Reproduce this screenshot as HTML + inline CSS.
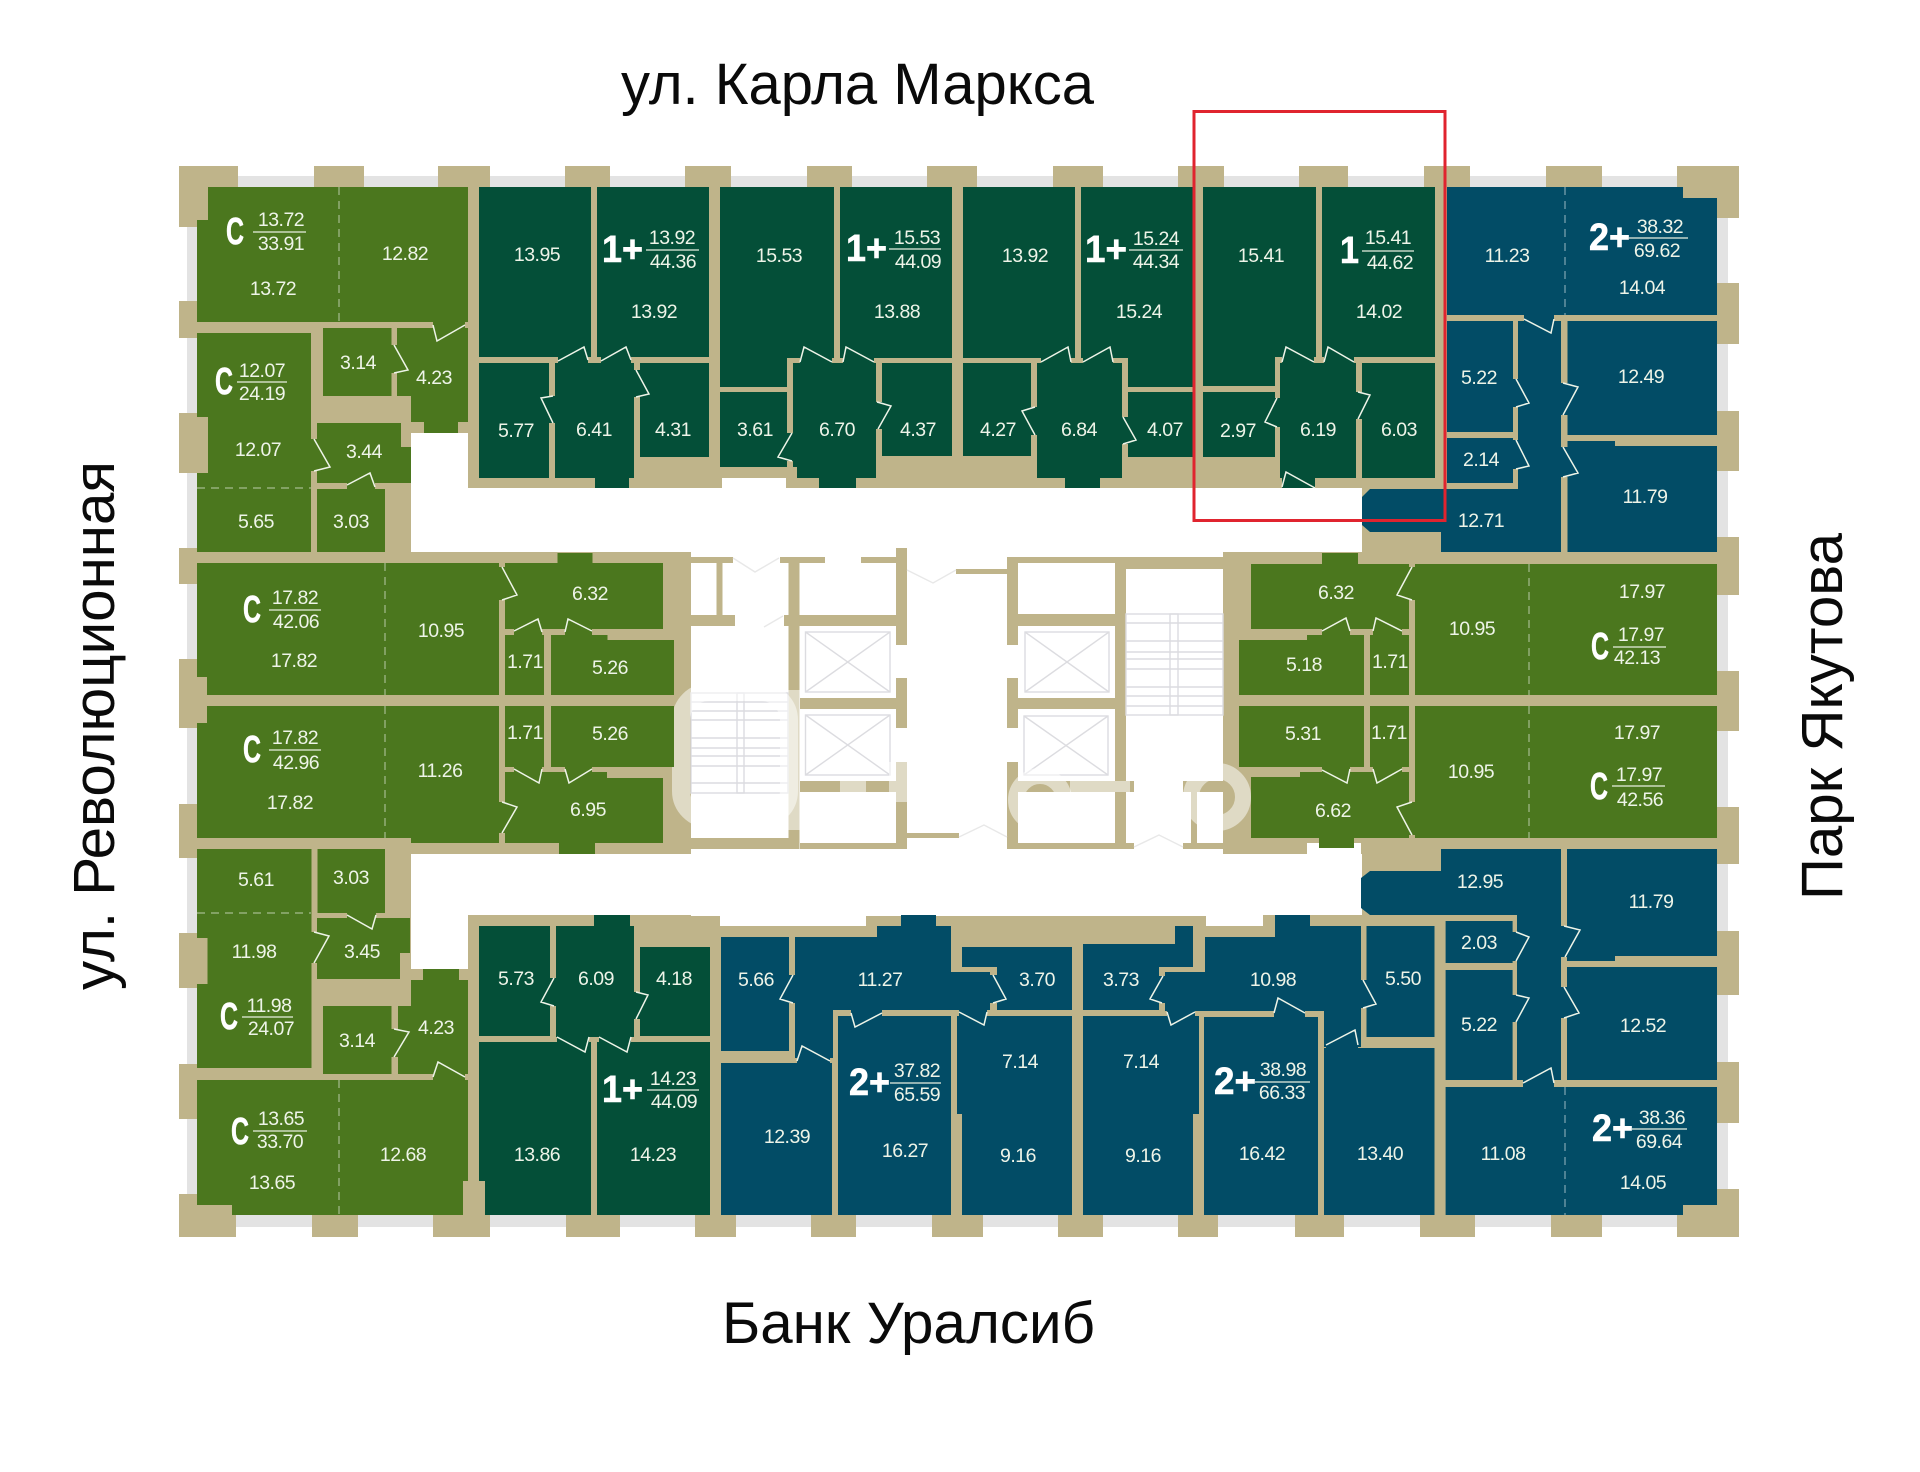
<!DOCTYPE html>
<html><head><meta charset="utf-8"><title>План этажа</title>
<style>
html,body{margin:0;padding:0;background:#fff}
svg{display:block}
text{font-family:"Liberation Sans",sans-serif}
.t text{font-size:19.5px;letter-spacing:-.5px;fill:#eef4e8;text-anchor:middle;dominant-baseline:central}
.b text{font-size:38px;font-weight:bold;fill:#fff;stroke:#fff;stroke-width:.6;dominant-baseline:central}
.l line{stroke:#e8efe0;stroke-width:1.3}
.s text{font-size:58px;fill:#0a0a0a}
</style></head><body>
<svg width="1920" height="1472" viewBox="0 0 1920 1472" xmlns="http://www.w3.org/2000/svg">

<!-- grey strip + tan base -->
<rect x="187" y="176" width="1541" height="1051" fill="#e3e3e3"/>
<rect x="197" y="187" width="1520" height="1028" fill="#bfb48a"/>

<!-- piers -->
<g fill="#bfb48a">
<rect x="179" y="166" width="59" height="21"/><rect x="314" y="166" width="50" height="21"/><rect x="438" y="166" width="52" height="21"/><rect x="565" y="166" width="45" height="21"/><rect x="685" y="166" width="46" height="21"/><rect x="807" y="166" width="45" height="21"/><rect x="927" y="166" width="50" height="21"/><rect x="1053" y="166" width="50" height="21"/><rect x="1178" y="166" width="46" height="21"/><rect x="1299" y="166" width="49" height="21"/><rect x="1424" y="166" width="46" height="21"/><rect x="1546" y="166" width="56" height="21"/><rect x="1677" y="166" width="62" height="32"/>
<rect x="179" y="1215" width="57" height="22"/><rect x="312" y="1215" width="46" height="22"/><rect x="433" y="1215" width="57" height="22"/><rect x="566" y="1215" width="54" height="22"/><rect x="695" y="1215" width="41" height="22"/><rect x="811" y="1215" width="45" height="22"/><rect x="932" y="1215" width="51" height="22"/><rect x="1058" y="1215" width="45" height="22"/><rect x="1178" y="1215" width="40" height="22"/><rect x="1295" y="1215" width="49" height="22"/><rect x="1420" y="1215" width="55" height="22"/><rect x="1551" y="1215" width="51" height="22"/><rect x="1677" y="1205" width="62" height="32"/>
<rect x="179" y="166" width="29" height="61"/><rect x="179" y="301" width="18" height="37"/><rect x="179" y="413" width="29" height="60"/><rect x="179" y="548" width="18" height="36"/><rect x="179" y="659" width="18" height="69"/><rect x="179" y="804" width="18" height="54"/><rect x="179" y="933" width="28" height="55"/><rect x="179" y="1064" width="18" height="55"/><rect x="179" y="1194" width="53" height="43"/>
<rect x="1717" y="166" width="22" height="52"/><rect x="1717" y="283" width="22" height="61"/><rect x="1717" y="411" width="22" height="60"/><rect x="1717" y="537" width="22" height="58"/><rect x="1717" y="671" width="22" height="60"/><rect x="1717" y="807" width="22" height="57"/><rect x="1717" y="931" width="22" height="64"/><rect x="1717" y="1062" width="22" height="61"/><rect x="1717" y="1189" width="22" height="48"/>
</g>

<!-- corridors & core -->
<g fill="#fff">
<rect x="411" y="433" width="57" height="119"/><rect x="468" y="488" width="894" height="64"/><rect x="722" y="478" width="64" height="10"/>
<rect x="691" y="552" width="548" height="364"/><rect x="411" y="854" width="951" height="61"/><rect x="1307" y="843" width="54" height="11"/>
<rect x="411" y="915" width="57" height="54"/><rect x="720" y="915" width="146" height="11"/><rect x="1206" y="915" width="57" height="11"/>
</g>
<g fill="#bfb48a">
<rect x="691" y="557" width="42" height="6"/><rect x="780" y="557" width="45" height="6"/><rect x="861" y="557" width="35" height="6"/>
<rect x="896" y="548" width="11" height="97"/><rect x="896" y="678" width="11" height="50"/><rect x="896" y="762" width="11" height="87"/>
<rect x="788.5" y="557" width="11" height="292"/><rect x="716.5" y="563" width="6" height="52"/><rect x="691" y="615" width="44" height="11"/><rect x="784" y="615" width="112" height="11"/>
<rect x="800" y="698" width="96" height="11"/><rect x="800" y="781" width="96" height="11"/><rect x="691" y="838" width="98" height="11"/><rect x="800" y="843" width="96" height="6"/><rect x="907" y="833" width="52" height="5"/>
<rect x="1007" y="557" width="11" height="88"/><rect x="1007" y="678" width="11" height="50"/><rect x="1007" y="762" width="11" height="87"/>
<rect x="1018" y="557" width="97" height="6"/><rect x="1115" y="557" width="124" height="12"/><rect x="1115" y="557" width="11" height="287"/>
<rect x="1018" y="614" width="97" height="12"/><rect x="1018" y="698" width="97" height="11"/><rect x="1018" y="781" width="116" height="11"/><rect x="1183" y="781" width="40" height="11"/><rect x="1191" y="792" width="6" height="51"/>
<rect x="1018" y="843" width="116" height="6"/><rect x="1183" y="843" width="56" height="6"/><rect x="1223" y="552" width="16" height="302"/><rect x="956" y="569" width="51" height="5"/>
</g>
<!-- stairs, lifts -->
<g fill="none" stroke="#dcdce0" stroke-width="1.4">
<rect x="691" y="693" width="97" height="100"/><rect x="737" y="693" width="7" height="100"/>
<path d="M691 702H788M691 711H788M691 720H788M691 738H788M691 748H788M691 756H788M691 766H788M691 783H788"/>
<rect x="1126" y="614" width="97" height="101"/><rect x="1170" y="614" width="8" height="101"/>
<path d="M1126 623H1223M1126 641H1223M1126 652H1223M1126 659H1223M1126 669H1223M1126 687H1223M1126 696H1223M1126 706H1223"/>
<rect x="805.5" y="632" width="84.5" height="60"/><path d="M805.5 632L890 692M890 632L805.5 692"/>
<rect x="805.5" y="715" width="84.5" height="60"/><path d="M805.5 715L890 775M890 715L805.5 775"/>
<rect x="1025" y="632" width="84" height="60"/><path d="M1025 632L1109 692M1109 632L1025 692"/>
<rect x="1024" y="716" width="84" height="59"/><path d="M1024 716L1108 775M1108 716L1024 775"/>
<path stroke="#e8e8e8" d="M733 558L755 572L779 558M764 627L783 616M907 570L933 583L956 570M959 837L984 825L1007 837M1134 847L1159 835L1183 847"/>
</g>
<!-- watermark -->
<g fill="none" stroke="#fff" stroke-opacity=".5">
<rect x="681" y="692" width="108" height="127" rx="28" stroke-width="18"/>
<circle cx="1040" cy="800" r="24" stroke-width="16"/>
<circle cx="1217" cy="797" r="26" stroke-width="16"/>
<path d="M794 690V830" stroke-width="11"/>
</g>
<g fill="#fff" fill-opacity=".5"><rect x="840" y="781" width="26" height="11"/><rect x="889" y="762" width="18" height="40"/><rect x="1070" y="781" width="60" height="11"/></g>

<!-- light green -->
<g fill="#4b771e">
<polygon points="208,187 468,187 468,322 197,322 197,220 208,220"/>
<polygon points="197,333 311,333 311,552 197,552 197,473 208,473 208,417 197,417"/>
<rect x="323" y="328" width="68.5" height="68"/>
<polygon points="397,328 468,328 468,422 458,422 458,433 424,433 424,422 411,422 411,396 397,396"/>
<polygon points="317,423 401,423 401,447 411,447 411,483 317,483"/>
<rect x="317" y="489" width="68" height="63"/>
<polygon points="197,563 499,563 499,695 207,695 207,677 197,677"/>
<polygon points="505,563 557.5,563 557.5,553 592.5,553 592.5,563 663,563 663,629 505,629"/>
<rect x="505" y="635" width="39" height="60"/>
<polygon points="551,635 607.5,635 607.5,640 674,640 674,695 551,695"/>
<polygon points="207,706 499,706 499,843 411,843 411,838 197,838 197,723 207,723"/>
<rect x="505" y="706" width="39" height="61"/><rect x="551" y="706" width="123" height="61"/>
<polygon points="505,772 607,772 607,778 663,778 663,843 595,843 595,854 559,854 559,843 505,843"/>
<polygon points="197,849 311.5,849 311.5,1068 197,1068 197,984 207.5,984 207.5,938 197,938"/>
<rect x="317.5" y="849" width="67.5" height="64"/>
<polygon points="317,918 410,918 410,953 400,953 400,979 317,979"/>
<rect x="323" y="1006" width="68.5" height="68"/>
<polygon points="398,1006 411,1006 411,980 423,980 423,969 459,969 459,980 468,980 468,1074 398,1074"/>
<polygon points="197,1080 468,1080 468,1181 463,1181 463,1215 232,1215 232,1205 197,1205"/>
<polygon points="1251,564 1322,564 1322,553 1358,553 1358,564 1409,564 1409,629 1251,629"/>
<polygon points="1239,640 1307,640 1307,635 1364,635 1364,695 1239,695"/>
<rect x="1370" y="635" width="39" height="60"/><rect x="1415" y="564" width="302" height="131"/>
<rect x="1239" y="706" width="125" height="61"/><rect x="1370" y="706" width="39" height="61"/><rect x="1415" y="706" width="302" height="132"/>
<polygon points="1251,777 1300,777 1300,772 1409,772 1409,838 1354,838 1354,848 1319,848 1319,838 1251,838"/>
</g>
<!-- dark green -->
<g fill="#044f38">
<rect x="479" y="187" width="112" height="170"/><rect x="597" y="187" width="112" height="170"/><rect x="479" y="363" width="70" height="115"/>
<polygon points="555,363 634,363 634,478 629,478 629,488 595,488 595,478 555,478"/>
<rect x="640" y="363" width="69" height="94"/>
<polygon points="720,187 834,187 834,358 787,358 787,387 720,387"/>
<rect x="840" y="187" width="112" height="171"/><rect x="720" y="392" width="67" height="75"/>
<polygon points="793,363 876,363 876,478 856,478 856,488 819,488 819,478 797,478 797,467 793,467"/>
<rect x="882" y="363" width="70" height="93"/>
<rect x="963" y="187" width="112" height="171"/>
<polygon points="1081,187 1193,187 1193,387 1128,387 1128,358 1081,358"/>
<rect x="963" y="363" width="68" height="93"/>
<polygon points="1037,363 1122,363 1122,478 1100,478 1100,488 1065,488 1065,478 1037,478"/>
<rect x="1128" y="392" width="65" height="65"/>
<polygon points="1203,187 1316,187 1316,357 1275,357 1275,386 1203,386"/>
<rect x="1322" y="187" width="113" height="170"/><rect x="1203" y="392" width="72" height="65"/>
<polygon points="1280,363 1356,363 1356,478 1315,478 1315,488 1282,488 1282,478 1280,478"/>
<rect x="1362" y="363" width="73" height="115"/>
<rect x="479" y="926" width="71" height="110"/>
<polygon points="556,926 594,926 594,915 630,915 630,926 634,926 634,1037 556,1037"/>
<rect x="640" y="947" width="70" height="89"/>
<polygon points="479,1042 591,1042 591,1215 485,1215 485,1181 479,1181"/>
<rect x="597" y="1042" width="113" height="173"/>
</g>
<!-- blue -->
<g fill="#024c66">
<polygon points="1447,187 1683,187 1683,198 1717,198 1717,315 1447,315"/>
<rect x="1447" y="321" width="66" height="111"/><rect x="1447" y="438" width="66" height="45"/>
<polygon points="1518,321 1561,321 1561,552 1441,552 1441,532 1370,532 1362,525 1362,497 1370,489 1518,489"/>
<rect x="1567.5" y="321" width="149.5" height="114"/>
<polygon points="1567.5,441 1615,441 1615,446 1717,446 1717,552 1567.5,552"/>
<polygon points="1370,871 1441,871 1441,849 1561,849 1561,1080 1517,1080 1517,915 1370,915 1361,908 1361,878"/>
<polygon points="1567,849 1717,849 1717,956 1615,956 1615,961 1567,961"/>
<rect x="1567" y="967" width="150" height="113"/>
<rect x="1445.6" y="921" width="67" height="42"/><rect x="1445.6" y="970" width="67" height="110"/>
<polygon points="1445.6,1087 1717,1087 1717,1205 1683,1205 1683,1215 1445.6,1215"/>
<rect x="721" y="937" width="68" height="114"/><rect x="721" y="1063" width="111" height="152"/>
<polygon points="795,937 877,937 877,926 901,926 901,915 936,915 936,926 951,926 951,972 990,972 990,1010 833,1010 833,1058 795,1058"/>
<polygon points="962,947 1072,947 1072,1010 997,1010 997,967 962,967"/>
<rect x="838" y="1016" width="113" height="199"/>
<polygon points="957,1016 1072,1016 1072,1215 962,1215 962,1114 957,1114"/>
<polygon points="1083,1016 1199,1016 1199,1114 1193,1114 1193,1215 1083,1215"/>
<polygon points="1083,944 1175,944 1175,926 1193,926 1193,967 1159,967 1159,1010 1083,1010"/>
<polygon points="1165,972 1205,972 1205,937 1275,937 1275,915 1310,915 1310,926 1361,926 1361,1047 1324,1047 1324,1011 1165,1011"/>
<rect x="1204" y="1017" width="114" height="198"/>
<rect x="1324" y="1048" width="110.5" height="167"/>
<rect x="1366.5" y="926" width="68" height="111"/>
</g>
<!-- door openings in walls -->
<path fill="none" stroke="#4b771e" stroke-width="7" d="M433 325H465M394.5 345V373M314 439V471M347 486H375M502 567V600M514 632H542M565 632H592M514 769.5H542M565 769.5H592M502 802V833M347 915.5H376M314 932V963M395 1029V1057M433 1077H465M1412 567V600M1322 632H1350M1373 632H1402M1322 769.5H1350M1373 769.5H1402M1412 802V835"/>
<path fill="none" stroke="#044f38" stroke-width="7" d="M558 360H588M601 360H631M637 370V397M552 396V423M800 360H832M843 360H874M879 402V429M790 433V461M1041 360H1071M1083 360H1113M1034 407V435M1125 417V444M1282 360H1314M1324 360H1354M1277.5 398V427M1359 392V419M553 978V1006M637 992V1019M557 1039H589M599 1039H631"/>
<path fill="none" stroke="#024c66" stroke-width="7" d="M1524 318H1554M1515.5 379V407M1515.5 440V469M1564 383V415M1564 447V477M792 975V1003M797 1060H830M851 1013H882M993.5 975V1003M959 1013H987M1162 976V1003M1167 1013H1195M1274 1014H1305M1326 1047H1358M1363.5 980V1008M1515 932V961M1515 995V1022M1564 926V957M1564 987V1018M1523 1083.5H1554"/>
<path fill="none" stroke="#eef4e8" stroke-width="1.5" d="M465 325L437 341L433 325M394 345L408 370L394 373M314 439L330 467L314 471M347 485L370 473L375 487M502 567L517 595L502 600M514 631L538 619L542 632M592 631L568 619L565 632M514 769L539 783L542 769M592 769L569 783L565 769M502 833L517 807L502 802M347 915L372 929L376 915M314 963L329 936L314 932M394 1057L409 1032L394 1029M465 1077L438 1062L433 1077M1412 567L1397 595L1412 600M1322 631L1346 618L1350 631M1402 631L1376 618L1373 631M1322 770L1347 783L1350 769M1402 769L1377 783L1373 769M1412 835L1397 807L1412 802M558 361L584 347L588 360M601 361L626 347L631 360M636 370L649 394L636 397M553 423L541 398L553 396M832 362L804 347L800 362M874 362L846 347L843 362M878 429L891 406L877 402M792 433L778 457L792 461M1041 362L1068 347L1071 362M1083 362L1110 347L1113 362M1035 435L1022 411L1035 407M1123 417L1136 440L1123 444M1314 362L1286 347L1282 362M1354 362L1328 347L1324 362M1277 398L1265 422L1277 427M1358 419L1370 395L1358 392M554 978L541 1002L554 1006M636 1019L648 995L636 992M557 1037L585 1052L589 1037M599 1037L627 1052L631 1037M1282 487L1286 472L1315 488M1524 319L1551 333L1554 319M1516 379L1529 403L1516 407M1516 440L1529 466L1516 469M1563 415L1578 387L1563 383M1563 447L1578 473L1563 477M793 975L780 999L793 1003M830 1061L802 1046L797 1061M882 1013L855 1027L851 1013M993 975L1006 999L993 1003M959 1012L984 1025L987 1012M1163 976L1150 999L1162 1003M1195 1012L1171 1025L1167 1012M1305 1013L1278 998L1274 1013M1326 1045L1355 1030L1358 1045M1363 980L1376 1004L1363 1008M1516 932L1529 937L1516 961M1516 995L1529 998L1516 1022M1564 926L1580 930L1565 957M1564 987L1579 1013L1564 1018M1523 1083L1551 1068L1554 1083"/>
<!-- dashed partitions -->
<path fill="none" stroke="#fff" stroke-opacity=".5" stroke-width="1.2" stroke-dasharray="8 6" d="M339 187V322M197 488H311M385 563V695M385 706V838M197 913H311M339 1080V1215M1565 187V315M1565 1087V1215M1529 564V695M1529 706V838"/>

<!-- fraction lines -->
<g class="l">
<line x1="253" y1="232" x2="306" y2="232"/><line x1="646" y1="250" x2="699" y2="250"/><line x1="237" y1="382" x2="287" y2="382"/><line x1="889" y1="249" x2="941" y2="249"/><line x1="1129" y1="250" x2="1183" y2="250"/><line x1="1362" y1="251" x2="1414" y2="251"/><line x1="1629" y1="238" x2="1688" y2="238"/><line x1="269" y1="610" x2="321" y2="610"/><line x1="269" y1="750" x2="321" y2="750"/><line x1="1613" y1="647" x2="1666" y2="647"/><line x1="1612" y1="786" x2="1665" y2="786"/><line x1="242" y1="1017" x2="293" y2="1017"/><line x1="253" y1="1131" x2="307" y2="1131"/><line x1="647" y1="1090" x2="699" y2="1090"/><line x1="890" y1="1083" x2="941" y2="1083"/><line x1="1255" y1="1082" x2="1310" y2="1082"/><line x1="1632" y1="1129" x2="1687" y2="1129"/>
</g>
<!-- big labels -->
<g class="b">
<text x="226" y="232" textLength="18" lengthAdjust="spacingAndGlyphs">C</text>
<text x="602" y="250" textLength="41" lengthAdjust="spacingAndGlyphs">1+</text>
<text x="215" y="382" textLength="18" lengthAdjust="spacingAndGlyphs">C</text>
<text x="846" y="249" textLength="41" lengthAdjust="spacingAndGlyphs">1+</text>
<text x="1085" y="250" textLength="42" lengthAdjust="spacingAndGlyphs">1+</text>
<text x="1340" y="251" textLength="19" lengthAdjust="spacingAndGlyphs">1</text>
<text x="1589" y="238" textLength="41" lengthAdjust="spacingAndGlyphs">2+</text>
<text x="243" y="610" textLength="18" lengthAdjust="spacingAndGlyphs">C</text>
<text x="243" y="750" textLength="18" lengthAdjust="spacingAndGlyphs">C</text>
<text x="1591" y="647" textLength="18" lengthAdjust="spacingAndGlyphs">C</text>
<text x="1590" y="787" textLength="18" lengthAdjust="spacingAndGlyphs">C</text>
<text x="220" y="1017" textLength="18" lengthAdjust="spacingAndGlyphs">C</text>
<text x="231" y="1132" textLength="18" lengthAdjust="spacingAndGlyphs">C</text>
<text x="602" y="1090" textLength="41" lengthAdjust="spacingAndGlyphs">1+</text>
<text x="849" y="1083" textLength="41" lengthAdjust="spacingAndGlyphs">2+</text>
<text x="1214" y="1082" textLength="42" lengthAdjust="spacingAndGlyphs">2+</text>
<text x="1592" y="1129" textLength="41" lengthAdjust="spacingAndGlyphs">2+</text>
</g>
<!-- numbers -->
<g class="t">
<text x="281" y="220">13.72</text><text x="281" y="244">33.91</text><text x="405" y="254">12.82</text><text x="273" y="289">13.72</text>
<text x="537" y="255">13.95</text><text x="672" y="238">13.92</text><text x="673" y="262">44.36</text><text x="654" y="312">13.92</text>
<text x="358" y="363">3.14</text><text x="434" y="378">4.23</text><text x="262" y="371">12.07</text><text x="262" y="394">24.19</text><text x="258" y="450">12.07</text><text x="364" y="452">3.44</text><text x="256" y="522">5.65</text><text x="351" y="522">3.03</text>
<text x="516" y="431">5.77</text><text x="594" y="430">6.41</text><text x="673" y="430">4.31</text><text x="755" y="430">3.61</text>
<text x="779" y="256">15.53</text><text x="917" y="238">15.53</text><text x="918" y="262">44.09</text><text x="897" y="312">13.88</text><text x="837" y="430">6.70</text><text x="918" y="430">4.37</text>
<text x="1025" y="256">13.92</text><text x="1156" y="239">15.24</text><text x="1156" y="262">44.34</text><text x="1139" y="312">15.24</text><text x="998" y="430">4.27</text><text x="1079" y="430">6.84</text><text x="1165" y="430">4.07</text>
<text x="1261" y="256">15.41</text><text x="1388" y="238">15.41</text><text x="1390" y="263">44.62</text><text x="1379" y="312">14.02</text><text x="1238" y="431">2.97</text><text x="1318" y="430">6.19</text><text x="1399" y="430">6.03</text>
<text x="1507" y="256">11.23</text><text x="1660" y="227">38.32</text><text x="1657" y="251">69.62</text><text x="1642" y="288">14.04</text><text x="1479" y="378">5.22</text><text x="1641" y="377">12.49</text><text x="1481" y="460">2.14</text><text x="1645" y="497">11.79</text><text x="1481" y="521">12.71</text>
<text x="295" y="598">17.82</text><text x="296" y="622">42.06</text><text x="294" y="661">17.82</text><text x="441" y="631">10.95</text><text x="590" y="594">6.32</text><text x="525" y="662">1.71</text><text x="610" y="668">5.26</text>
<text x="295" y="738">17.82</text><text x="296" y="763">42.96</text><text x="290" y="803">17.82</text><text x="440" y="771">11.26</text><text x="525" y="733">1.71</text><text x="610" y="734">5.26</text><text x="588" y="810">6.95</text>
<text x="256" y="880">5.61</text><text x="351" y="878">3.03</text><text x="254" y="952">11.98</text><text x="362" y="952">3.45</text><text x="269" y="1006">11.98</text><text x="271" y="1029">24.07</text><text x="357" y="1041">3.14</text><text x="436" y="1028">4.23</text>
<text x="516" y="979">5.73</text><text x="596" y="979">6.09</text><text x="674" y="979">4.18</text>
<text x="281" y="1119">13.65</text><text x="280" y="1142">33.70</text><text x="403" y="1155">12.68</text><text x="272" y="1183">13.65</text><text x="673" y="1079">14.23</text><text x="674" y="1102">44.09</text><text x="537" y="1155">13.86</text><text x="653" y="1155">14.23</text>
<text x="756" y="980">5.66</text><text x="880" y="980">11.27</text><text x="1037" y="980">3.70</text><text x="1121" y="980">3.73</text><text x="787" y="1137">12.39</text><text x="917" y="1071">37.82</text><text x="917" y="1095">65.59</text><text x="905" y="1151">16.27</text><text x="1020" y="1062">7.14</text><text x="1018" y="1156">9.16</text><text x="1141" y="1062">7.14</text><text x="1143" y="1156">9.16</text>
<text x="1480" y="882">12.95</text><text x="1651" y="902">11.79</text><text x="1479" y="943">2.03</text><text x="1273" y="980">10.98</text><text x="1403" y="979">5.50</text><text x="1479" y="1025">5.22</text><text x="1643" y="1026">12.52</text>
<text x="1283" y="1070">38.98</text><text x="1282" y="1093">66.33</text><text x="1262" y="1154">16.42</text><text x="1380" y="1154">13.40</text><text x="1503" y="1154">11.08</text><text x="1662" y="1118">38.36</text><text x="1659" y="1142">69.64</text><text x="1643" y="1183">14.05</text>
<text x="1642" y="592">17.97</text><text x="1641" y="635">17.97</text><text x="1637" y="658">42.13</text><text x="1472" y="629">10.95</text><text x="1336" y="593">6.32</text><text x="1304" y="665">5.18</text><text x="1390" y="662">1.71</text>
<text x="1303" y="734">5.31</text><text x="1389" y="733">1.71</text><text x="1637" y="733">17.97</text><text x="1471" y="772">10.95</text><text x="1639" y="775">17.97</text><text x="1640" y="800">42.56</text><text x="1333" y="811">6.62</text>
</g>
<!-- street labels -->
<g class="s">
<text x="621" y="104" textLength="473" lengthAdjust="spacingAndGlyphs">ул. Карла Маркса</text>
<text x="722" y="1343" textLength="373" lengthAdjust="spacingAndGlyphs">Банк Уралсиб</text>
<text transform="translate(114 990) rotate(-90)" textLength="529" lengthAdjust="spacingAndGlyphs">ул. Революционная</text>
<text transform="translate(1842 900) rotate(-90)" textLength="367" lengthAdjust="spacingAndGlyphs">Парк Якутова</text>
</g>
<!-- red frame -->
<rect x="1194" y="111.5" width="251" height="409" fill="none" stroke="#e0242f" stroke-width="3"/>
</svg>
</body></html>
